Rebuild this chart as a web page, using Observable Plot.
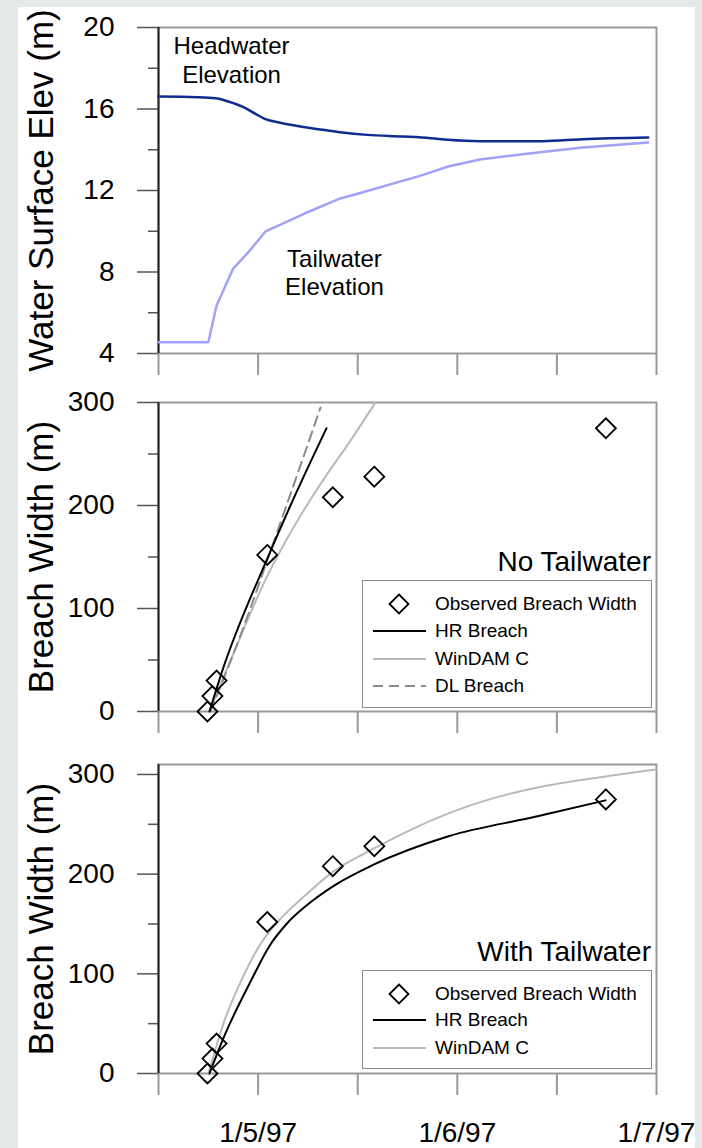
<!DOCTYPE html>
<html>
<head>
<meta charset="utf-8">
<script src="https://cdn.jsdelivr.net/npm/d3@7"></script>
<script src="https://cdn.jsdelivr.net/npm/@observablehq/plot@0.6"></script>
<style>
  html, body { margin: 0; padding: 0; }
  body { width: 702px; height: 1148px; position: relative; overflow: hidden; background: #e5e9e9;
         font-family: "Liberation Sans", Arial, sans-serif; }
  #card { position: absolute; left: 18px; top: 7px; width: 677px; height: 1141px; background: #fff; }
  .panel { position: absolute; left: 0; width: 702px; }
  .panel svg { display: block; }
  .legend { position: absolute; background: #fff; border: 1.5px solid #8a8a8a; box-sizing: border-box; }
  .row { position: absolute; left: 0; height: 24px; width: 100%; }
  .row svg { position: absolute; left: 8px; top: 0; }
  .row span { position: absolute; left: 72px; top: 0; line-height: 24px; font-size: 19px; color: #000; white-space: nowrap; }
  .ptitle { position: absolute; font-size: 28px; line-height: 28px; color: #000; white-space: nowrap; text-align: right; }
</style>
</head>
<body>
<div id="card"></div>
<div id="p1" class="panel" style="top:0px"></div>
<div id="p2" class="panel" style="top:378px"></div>
<div id="p3" class="panel" style="top:736px"></div>
<script>
// ---------- data (hours after 1997-01-04 00:00) ----------
const hwHours = [12.0, 16.7, 18.9, 20.4, 22.1, 23.7, 24.8, 26.4, 29.1, 31.8, 33.9, 37.2, 41.5, 44.8, 46.9, 50.7, 58.3, 63.1, 71.0];
const hwElev  = [16.61, 16.58, 16.53, 16.37, 16.12, 15.76, 15.52, 15.35, 15.14, 14.98, 14.86, 14.73, 14.65, 14.57, 14.49, 14.42, 14.42, 14.52, 14.60];
const twHours = [12.0, 18.0, 19.0, 21.0, 22.7, 24.9, 29.6, 33.9, 36.1, 43.7, 46.9, 50.7, 57.7, 63.1, 71.0];
const twElev  = [4.55, 4.55, 6.36, 8.17, 8.91, 9.99, 10.87, 11.61, 11.85, 12.74, 13.18, 13.52, 13.87, 14.11, 14.35];

const obsHours = [17.9, 18.5, 19.0, 25.1, 33.0, 38.0, 65.9];
const obsWidth = [0, 15, 30, 152, 208, 228, 275];

// No tailwater
const hrNoHours  = [18.14, 19.71, 25.25, 27.90, 32.24];
const hrNoWidth  = [0, 40, 151, 200, 275];
const winNoHours = [18.14, 20.07, 22.48, 24.89, 27.30, 29.71, 32.12, 35.13, 38.14];
const winNoWidth = [0, 38, 84, 128, 165, 198, 228, 263, 300];
const dlNoHours  = [18.26, 21.88, 26.46, 31.52];
const dlNoWidth  = [0, 74, 178, 295];

// With tailwater
const hrTwHours  = [18.14, 19.95, 23.20, 25.37, 27.42, 30.67, 33.45, 37.78, 46.94, 57.66, 65.86];
const hrTwWidth  = [0, 38, 94, 128, 150, 174, 190, 209, 238, 258, 274];
const winTwHours = [18.02, 19.95, 22.12, 24.29, 26.46, 29.59, 32.96, 38.02, 41.52, 46.94, 52.24, 57.66, 65.86, 72.0];
const winTwWidth = [0, 53, 96, 130, 153, 178, 202, 226, 241, 261, 276, 287, 298, 305];

// ticks and labels
const xTickHours  = [12, 24, 36, 48, 60, 72];
const xTickLabels = ["", "1/5/97", "", "1/6/97", "", "1/7/97"];
const elevMajor = [4, 8, 12, 16, 20];
const elevMinor = [6, 10, 14, 18];
const widthMajor = [0, 100, 200, 300];
const widthMinor = [50, 150, 250];
const yTitles = ["Water Surface Elev (m)", "Breach Width (m)", "Breach Width (m)"];
const annotations = [
  {label: "Headwater\nElevation", h: 20.8, v: 18.43},
  {label: "Tailwater\nElevation", h: 33.2, v: 8.02}
];
const panelTitles = ["No Tailwater", "With Tailwater"];
const seriesNames = ["Observed Breach Width", "HR Breach", "WinDAM C", "DL Breach"];

// ---------- helpers ----------
const base = Date.UTC(1997, 0, 4);
const toDate = h => new Date(base + h * 3600e3);
const zip = (hs, vs) => hs.map((h, i) => ({t: toDate(h), v: vs[i]}));
const xTickDates = xTickHours.map(toDate);
const labelFor = new Map(xTickHours.map((h, i) => [+toDate(h), xTickLabels[i]]));

const C = {
  head: "#0f2c8e", tail: "#a1a1f7", hr: "#000000", win: "#b9b9b9", dl: "#8a8a8a"
};

function panel({height, marginTop, marginBottom, yDomain, yMajor, yMinor, title, marks, showX}) {
  return Plot.plot({
    width: 702, height, marginLeft: 158, marginRight: 46, marginTop, marginBottom,
    style: {fontFamily: "'Liberation Sans', Arial, sans-serif", color: "#000", background: "transparent", overflow: "visible"},
    x: {type: "utc", domain: [toDate(12), toDate(72)]},
    y: {domain: yDomain},
    marks: [
      Plot.frame({stroke: "#9a9a9a", strokeWidth: 2}),
      Plot.axisY(yMinor, {tickSize: 10, tickFormat: () => "", stroke: "#555", strokeWidth: 1.5, label: null}),
      Plot.axisY(yMajor, {tickSize: 21, tickPadding: 23, fontSize: 28, stroke: "#555", strokeWidth: 1.5, label: null, tickFormat: d => String(d)}),
      Plot.axisX(xTickDates, {tickSize: 22, tickPadding: 27, fontSize: 28, stroke: "#999", strokeWidth: 2, label: null,
        tickFormat: d => showX ? (labelFor.get(+d) ?? "") : ""}),
      Plot.ruleX([toDate(12)], {stroke: "#222", strokeWidth: 2}),
      Plot.text([title], {text: d => d, frameAnchor: "left", textAnchor: "middle", lineAnchor: "middle", rotate: -90, dx: -117, fontSize: 35}),
      ...marks
    ]
  });
}

const diamonds = data => Plot.dot(data, {x: "t", y: "v", symbol: "diamond2", r: 9, stroke: "#000", strokeWidth: 1.8, fill: "none"});

// Panel 1
document.getElementById("p1").append(panel({
  height: 378, marginTop: 27, marginBottom: 25, yDomain: [4, 20], yMajor: elevMajor, yMinor: elevMinor, title: yTitles[0],
  marks: [
    Plot.line(zip(twHours, twElev), {x: "t", y: "v", stroke: C.tail, strokeWidth: 2.5}),
    Plot.line(zip(hwHours, hwElev), {x: "t", y: "v", stroke: C.head, strokeWidth: 2.5, curve: "monotone-x"}),
    Plot.text(annotations, {x: d => toDate(d.h), y: "v", text: "label", fontSize: 24, lineHeight: 1.17, textAnchor: "middle"})
  ]
}));

// Panel 2
document.getElementById("p2").append(panel({
  height: 358, marginTop: 24, marginBottom: 25, yDomain: [0, 300], yMajor: widthMajor, yMinor: widthMinor, title: yTitles[1],
  marks: [
    Plot.line(zip(winNoHours, winNoWidth), {x: "t", y: "v", stroke: C.win, strokeWidth: 2, curve: "monotone-x"}),
    Plot.line(zip(dlNoHours, dlNoWidth), {x: "t", y: "v", stroke: C.dl, strokeWidth: 2, strokeDasharray: "10,6", curve: "monotone-x"}),
    Plot.line(zip(hrNoHours, hrNoWidth), {x: "t", y: "v", stroke: C.hr, strokeWidth: 2, curve: "monotone-x"}),
    diamonds(zip(obsHours, obsWidth))
  ]
}));

// Panel 3
document.getElementById("p3").append(panel({
  height: 412, marginTop: 28, marginBottom: 75, yDomain: [0, 310], yMajor: widthMajor, yMinor: widthMinor, title: yTitles[2], showX: true,
  marks: [
    Plot.line(zip(winTwHours, winTwWidth), {x: "t", y: "v", stroke: C.win, strokeWidth: 2, curve: "monotone-x"}),
    Plot.line(zip(hrTwHours, hrTwWidth), {x: "t", y: "v", stroke: C.hr, strokeWidth: 2, curve: "monotone-x"}),
    diamonds(zip(obsHours, obsWidth))
  ]
}));

// ---------- legends (HTML overlays) ----------
function swatch(kind) {
  const ns = "http://www.w3.org/2000/svg";
  const s = document.createElementNS(ns, "svg");
  s.setAttribute("width", 56); s.setAttribute("height", 24);
  let el;
  if (kind === "obs") {
    el = document.createElementNS(ns, "path");
    el.setAttribute("d", "M28,2.5L37.5,12L28,21.5L18.5,12Z");
    el.setAttribute("fill", "none"); el.setAttribute("stroke", "#000"); el.setAttribute("stroke-width", 1.8);
  } else {
    el = document.createElementNS(ns, "line");
    el.setAttribute("x1", 2); el.setAttribute("x2", 55); el.setAttribute("y1", 12); el.setAttribute("y2", 12);
    el.setAttribute("stroke", C[kind]); el.setAttribute("stroke-width", 2);
    if (kind === "dl") el.setAttribute("stroke-dasharray", "10,6");
  }
  s.append(el);
  return s;
}
function legend(left, top, width, height, rows, rowTops) {
  const box = document.createElement("div");
  box.className = "legend";
  Object.assign(box.style, {left: left + "px", top: top + "px", width: width + "px", height: height + "px"});
  rows.forEach((r, i) => {
    const row = document.createElement("div");
    row.className = "row";
    row.style.top = rowTops[i] + "px";
    row.append(swatch(r.kind));
    const sp = document.createElement("span");
    sp.textContent = r.name;
    row.append(sp);
    box.append(row);
  });
  document.body.append(box);
}
function ptitle(text, right, top) {
  const d = document.createElement("div");
  d.className = "ptitle";
  d.textContent = text;
  Object.assign(d.style, {right: (702 - right) + "px", top: top + "px"});
  document.body.append(d);
}
ptitle(panelTitles[0], 651, 548);
legend(362, 580, 290, 128, [
  {kind: "obs", name: seriesNames[0]}, {kind: "hr", name: seriesNames[1]},
  {kind: "win", name: seriesNames[2]}, {kind: "dl", name: seriesNames[3]}
], [11, 38, 66, 93]);
ptitle(panelTitles[1], 651, 938);
legend(362, 970, 290, 99, [
  {kind: "obs", name: seriesNames[0]}, {kind: "hr", name: seriesNames[1]},
  {kind: "win", name: seriesNames[2]}
], [11, 37, 65]);
</script>
</body>
</html>
